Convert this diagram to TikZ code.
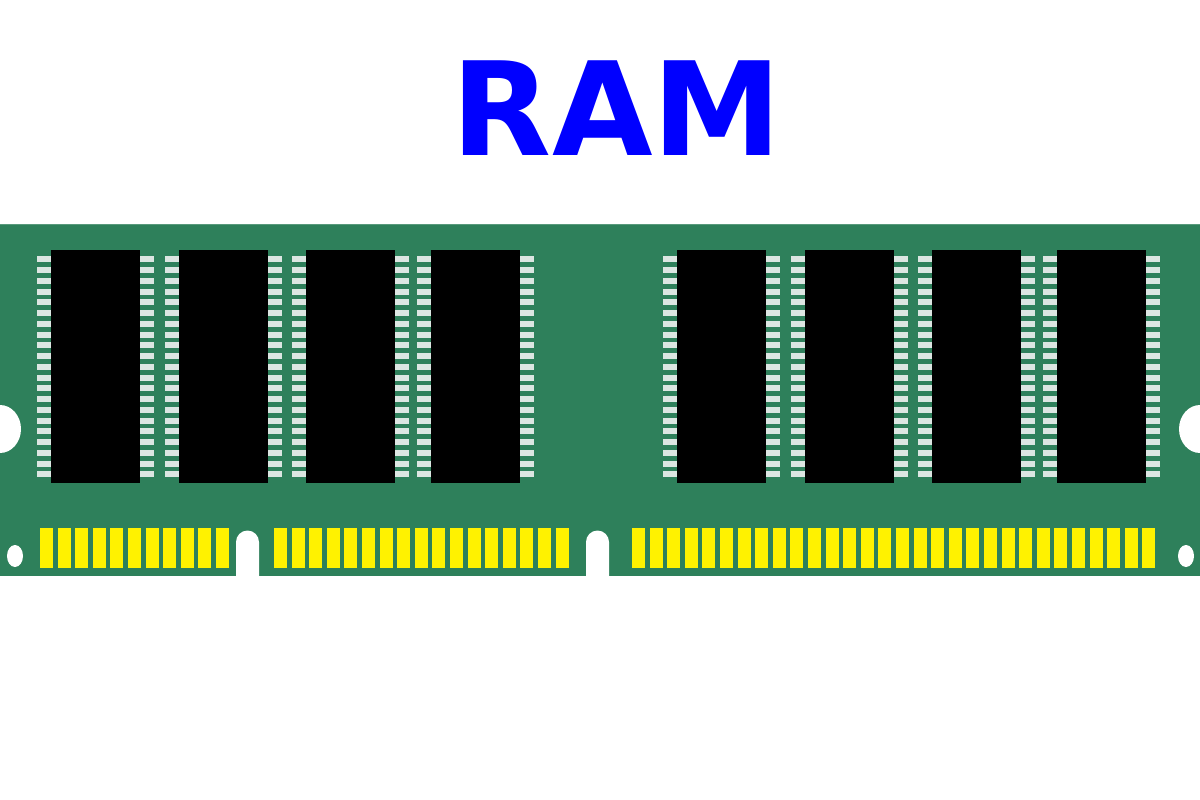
\documentclass[tikz,border=0pt]{standalone}
\usepackage{fontspec}
\setmainfont{DejaVu Sans}
\definecolor{board}{HTML}{2E805B}
\definecolor{pin}{HTML}{DCE6E2}
\begin{document}
\begin{tikzpicture}[x=1pt,y=-1pt,
  chip/.style={fill=black},
  pinst/.style={fill=pin},
  contact/.style={fill=yellow},
  hole/.style={fill=white}]
\useasboundingbox (0,0) rectangle (1200,800);
\fill[white] (0,0) rectangle (1200,800);
\node[anchor=base, text=blue, font=\bfseries\fontsize{130}{130}\selectfont, inner sep=0] (title) at (617,155) {RAM};
% board
\fill[board] (0,224) rectangle (1200,576);
\draw[board!80!white, line width=1.5pt] (0,224.5) -- (1200,224.5);
% side holes
\fill[hole] (0,429) ellipse [x radius=21, y radius=24];
\fill[hole] (1200,429) ellipse [x radius=21, y radius=24];
\fill[hole] (15,556) ellipse [x radius=8, y radius=11];
\fill[hole] (1186,556) ellipse [x radius=8, y radius=11];
% notches
\fill[hole] (236,577) -- (236,542) arc[start angle=180,end angle=360,x radius=11.5,y radius=11.5] -- (259,577) -- cycle;
\fill[hole] (586,577) -- (586,542) arc[start angle=180,end angle=360,x radius=11.5,y radius=11.5] -- (609,577) -- cycle;
% chips
\foreach \cx in {51,179,306,431,677,805,932,1057}{
  \foreach \i in {0,...,20}{
    \fill[pinst] (\cx-14,256.3+\i*10.75) rectangle (\cx,262.3+\i*10.75);
    \fill[pinst] (\cx+89,256.3+\i*10.75) rectangle (\cx+103,262.3+\i*10.75);
  }
  \fill[chip] (\cx,250) rectangle (\cx+89,483);
}
% contacts
\foreach \i in {0,...,10}{\fill[contact] (40+\i*17.6,528) rectangle (53+\i*17.6,568);}
\foreach \i in {0,...,16}{\fill[contact] (274+\i*17.6,528) rectangle (287+\i*17.6,568);}
\foreach \i in {0,...,29}{\fill[contact] (632+\i*17.6,528) rectangle (645+\i*17.6,568);}
\end{tikzpicture}
\end{document}
